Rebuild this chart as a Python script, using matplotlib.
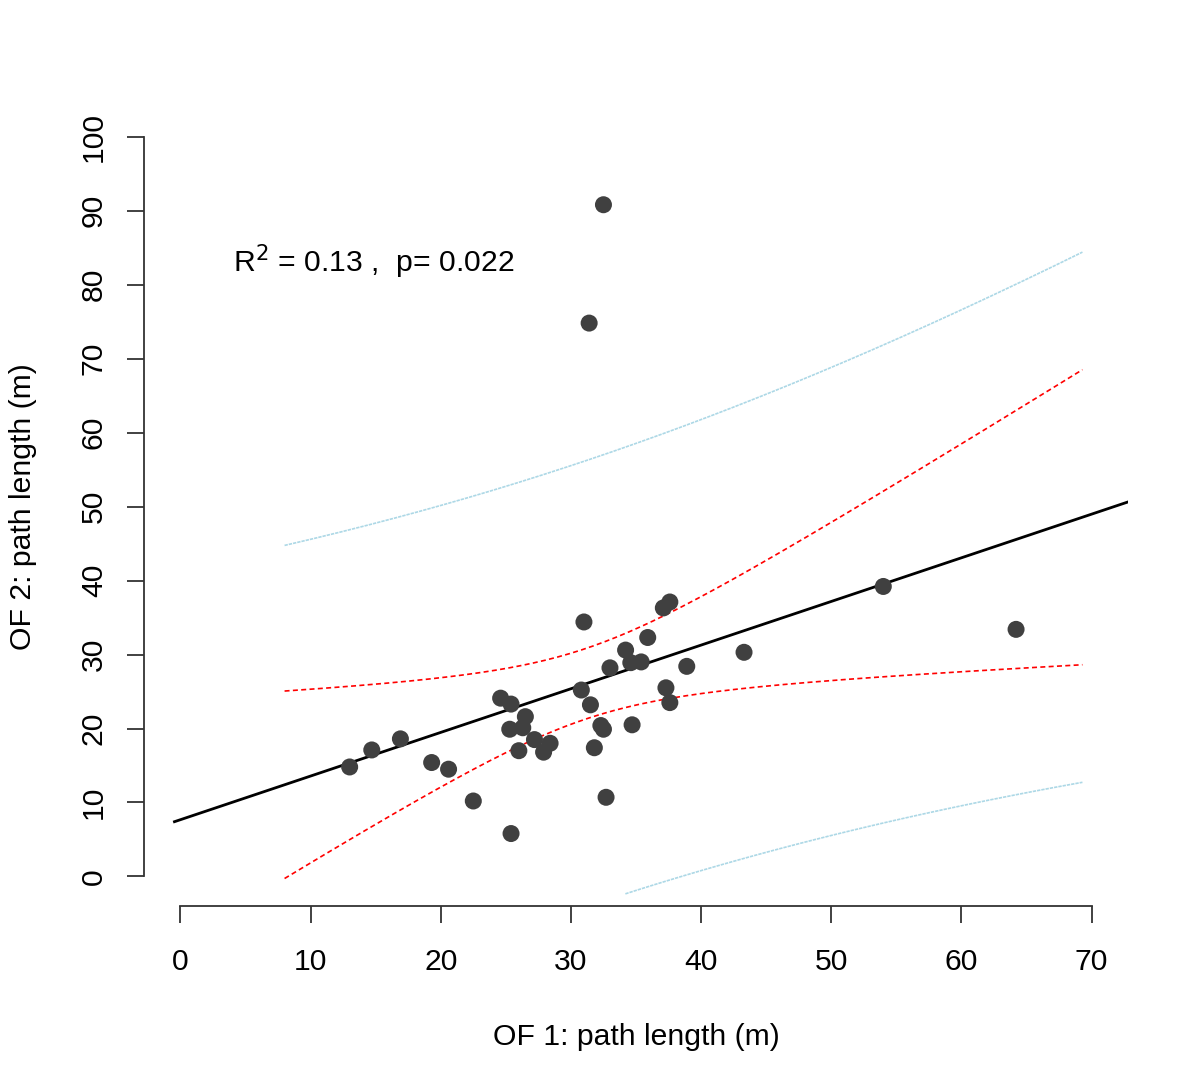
import numpy as np
import matplotlib
matplotlib.use("Agg")
import matplotlib.pyplot as plt

plt.rcParams['font.family'] = ['Liberation Sans', 'DejaVu Sans']

# path lengths (m) in open field 1 and open field 2
of1 = [13.0, 14.7, 16.9, 19.3, 20.6, 22.5, 24.6, 25.4, 26.5, 25.3,
       26.3, 27.2, 28.4, 27.9, 26.0, 25.4, 31.0, 30.8, 31.5, 32.3,
       32.5, 31.8, 32.7, 33.0, 34.2, 34.6, 35.4, 34.7, 35.9, 37.1,
       37.6, 37.3, 37.6, 38.9, 43.3, 54.0, 64.2, 32.5, 31.4]
of2 = [14.8, 17.1, 18.6, 15.4, 14.5, 10.2, 24.1, 23.3, 21.6, 19.9,
       20.1, 18.5, 18.0, 16.8, 17.0, 5.8, 34.4, 25.2, 23.2, 20.4,
       19.9, 17.4, 10.7, 28.2, 30.6, 28.9, 29.0, 20.5, 32.3, 36.3,
       37.1, 25.5, 23.5, 28.4, 30.3, 39.2, 33.4, 90.8, 74.8]

x = np.array(of1)
y = np.array(of2)
n = len(x)

# linear fit with confidence and prediction bands
slope, inter = np.polyfit(x, y, 1)
res = y - (inter + slope * x)
s = np.sqrt(np.sum(res ** 2) / (n - 2))
sxx = np.sum((x - x.mean()) ** 2)
t = 2.026

grid = np.linspace(8, 69.3, 200)
fit = inter + slope * grid
se_mean = s * np.sqrt(1 / n + (grid - x.mean()) ** 2 / sxx)
se_pred = s * np.sqrt(1 + 1 / n + (grid - x.mean()) ** 2 / sxx)

fig = plt.figure(figsize=(12, 10.86), dpi=100)
ax = fig.add_axes([0.12, 0.1657, 0.82, 0.7357])

ax.plot(grid, fit + t * se_pred, color='lightblue', lw=1.2, ls=(0, (2, 0.6)))
low_pi = fit - t * se_pred
m = grid >= 34
ax.plot(grid[m], low_pi[m], color='lightblue', lw=1.2, ls=(0, (2, 0.6)))
ax.plot(grid, fit + t * se_mean, color='red', lw=1.2, ls=(0, (3, 2)))
ax.plot(grid, fit - t * se_mean, color='red', lw=1.2, ls=(0, (3, 2)))

xl = np.array([-0.46, 72.85])
ax.plot(xl, inter + slope * xl, color='black', lw=2)

ax.scatter(x, y, s=150, color='#404040', zorder=3, edgecolors='none')

ax.text(4, 81.6, r'R$^2$ = 0.13 ,  p= 0.022', fontsize=21.7)

ax.set_xlim(-2.8, 72.8)
ax.set_ylim(-4, 104)
ax.set_xticks(range(0, 80, 10))
ax.set_yticks(range(0, 110, 10))
ax.set_yticklabels([str(v) for v in range(0, 110, 10)], rotation=90, va='center')
for sp in ['top', 'right']:
    ax.spines[sp].set_visible(False)
ax.spines['left'].set_bounds(0, 100)
ax.spines['bottom'].set_bounds(0, 70)
for sp in ['left', 'bottom']:
    ax.spines[sp].set_color('#333333')
    ax.spines[sp].set_linewidth(1.3)
ax.tick_params(length=12, width=1.3, color='#333333', labelsize=21.7)
ax.tick_params(axis='x', pad=18)
ax.tick_params(axis='y', pad=14)

ax.set_xlabel('OF 1: path length (m)', fontsize=21.7, labelpad=34)
ax.set_ylabel('OF 2: path length (m)', fontsize=21.7, labelpad=31)

fig.savefig('out.png', dpi=100)
